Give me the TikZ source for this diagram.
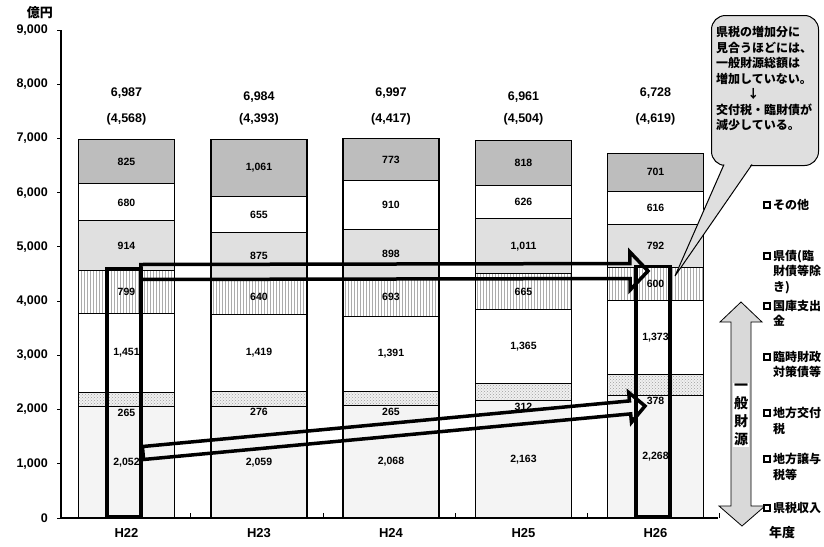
\documentclass[tikz,border=0pt]{standalone}
\usepackage{fontspec}
\setmainfont{Liberation Sans}
\newfontfamily\jp{Noto Sans CJK JP}
\usepackage{tikz}
\usetikzlibrary{calc,patterns}

\begin{document}
\begin{tikzpicture}[x=1pt, y=-1pt,
    every node/.style={inner sep=1pt},
    /pgf/number format/.cd, 1000 sep={,}, assume math mode=true, /tikz/.cd,
    num/.style={font=\bfseries\fontsize{10.5}{12}\selectfont},
    tot/.style={font=\bfseries\fontsize{12.5}{14}\selectfont},
    axlab/.style={font=\bfseries\fontsize{12.5}{14}\selectfont, anchor=east},
    jptxt/.style={font=\jp\bfseries\fontsize{12}{15.5}\selectfont, align=left, inner sep=0pt},
    seg1/.style={draw, line width=1pt, fill=gray!9},
    seg2/.style={draw, line width=1pt, preaction={fill=gray!12}, pattern=crosshatch dots, pattern color=gray!75},
    seg3/.style={draw, line width=1pt, fill=white},
    seg4/.style={draw, line width=1pt, preaction={fill=white}, pattern=vertical lines, pattern color=gray!65},
    seg5/.style={draw, line width=1pt, fill=gray!24},
    seg6/.style={draw, line width=1pt, fill=white},
    seg7/.style={draw, line width=1pt, fill=gray!52},
    thickbox/.style={draw, line width=3.5pt, minimum width=34pt, inner sep=0pt},
    blockarrow/.style={draw, line width=3.5pt, line join=miter},
    legbox/.style={draw, line width=1.3pt, fill=white, minimum size=6pt, inner sep=0pt},
    notebox/.style={draw, line width=1pt, fill=gray!25, rounded corners=14pt}]
  \fill[white] (0,0) rectangle (824,546);
  \useasboundingbox (0,0) rectangle (824,546);

  % stacked bars
  \foreach \yr/\cx/\ty/\tot/\gen/\vals in {
      H22/126.5/93/6987/4568/{2052,265,1451,799,914,680,825},
      H23/259/97/6984/4393/{2059,276,1419,640,875,655,1061},
      H24/391/93/6997/4417/{2068,265,1391,693,898,910,773},
      H25/523.5/97/6961/4504/{2163,312,1365,665,1011,626,818},
      H26/655.5/93/6728/4619/{2268,378,1373,600,792,616,701}} {
    \foreach \val [count=\sg, evaluate=\val as \hi using \lo+\val, remember=\hi as \lo (initially 0)] in \vals {
      \draw[seg\sg] (\cx-48,{518-0.05422*\lo}) rectangle (\cx+48,{518-0.05422*\hi});
      \pgfmathsetmacro\ly{\sg==2 ? 524-0.05422*\lo : 518-0.05422*(\lo+\hi)/2}
      \node[num] (v-\yr-\sg) at (\cx,\ly) {\pgfmathprintnumber{\val}};
    }
    \draw[line width=1.4pt] (\cx-48,518) rectangle (\cx+48,{518-0.05422*\tot});
    \node[tot] (t-\yr) at (\cx,\ty) {\pgfmathprintnumber{\tot}};
    \node[tot] (g-\yr) at (\cx,119) {(\pgfmathprintnumber{\gen})};
    \node[tot, font=\bfseries\fontsize{13}{15}\selectfont] (x-\yr) at (\cx,533) {\yr};
    \draw[line width=1pt] (\cx+64,518) -- (\cx+64,513);
  }

  % axes
  \draw[line width=1.3pt] (61,30) -- (61,518) -- (718,518);
  \foreach \n in {0,...,9} {
    \draw[line width=1pt] (57,{518-54.22*\n}) -- (61,{518-54.22*\n});
    \node[axlab] (ax\n) at (49,{518-54.22*\n}) {\pgfmathprintnumber{\n000}};
  }
  \node[jptxt, font=\jp\bfseries\fontsize{13}{15}\selectfont] (unit) at (40,13) {億円};
  \node[jptxt, font=\jp\bfseries\fontsize{13}{15}\selectfont] (nendo) at (782,533) {年度};

  % general revenue of H22 and H26
  \node[thickbox, minimum height=248pt, anchor=south west] (r22) at (105,518) {};
  \node[thickbox, minimum height=250pt, anchor=south west] (r26) at (634,518) {};

  \coordinate (ua-s) at (141,272);
  \coordinate (ua-e) at (648,271);
  \coordinate (la-s) at (143,453);
  \coordinate (la-e) at (645,406);
  \foreach \arr/\sw/\hw/\hlen in {ua/7.5pt/19pt/18pt, la/6.5pt/15pt/15pt} {
    \coordinate (\arr-h) at ($(\arr-e)!\hlen!(\arr-s)$);
    \draw[blockarrow] ($(\arr-s)!\sw!90:(\arr-e)$) -- ($(\arr-h)!\sw!-90:(\arr-s)$)
      -- ($(\arr-h)!\hw!-90:(\arr-s)$) -- (\arr-e) -- ($(\arr-h)!\hw!90:(\arr-s)$)
      -- ($(\arr-h)!\sw!90:(\arr-s)$) -- ($(\arr-s)!\sw!-90:(\arr-e)$) -- cycle;
  }

  % double arrow
  \draw[fill=gray!30, line width=0.8pt] (741,302) -- (762,322) -- (751,322) -- (751,506)
    -- (765,506) -- (742,526) -- (719,506) -- (731,506) -- (731,322) -- (720,322) -- cycle;
  \node[jptxt, fill=white, align=center, inner sep=1pt,
    font=\jp\bfseries\fontsize{14}{18}\selectfont] (ippan) at (741,415) {一\\般\\財\\源};

  % callout
  \node[notebox, minimum width=107pt, minimum height=150pt, anchor=north west] (note) at (711,15) {};
  \fill[gray!25] (724,163) -- (675,276) -- (752,163) -- cycle;
  \draw[line width=1pt] (724,164.5) -- (675,276) -- (752,164.5);
  \node[jptxt, anchor=north west] (notetxt) at (716,26)
    {県税の増加分に\\見合うほどには、\\一般財源総額は\\増加していない。\\\hspace*{2.6em}↓\\交付税・臨財債が\\減少している。};

  % legend
  \foreach \ly/\txt [count=\i] in {205/その他, 256/{県債(臨\\財債等除\\き)}, 306/{国庫支出\\金},
      357/{臨時財政\\対策債等}, 413/{地方交付\\税}, 459/{地方譲与\\税等}, 508/県税収入} {
    \node[legbox] (lb\i) at (767,\ly) {};
    \node[jptxt, anchor=north west] (lt\i) at (773,\ly-6) {\txt};
  }
\end{tikzpicture}
\end{document}
